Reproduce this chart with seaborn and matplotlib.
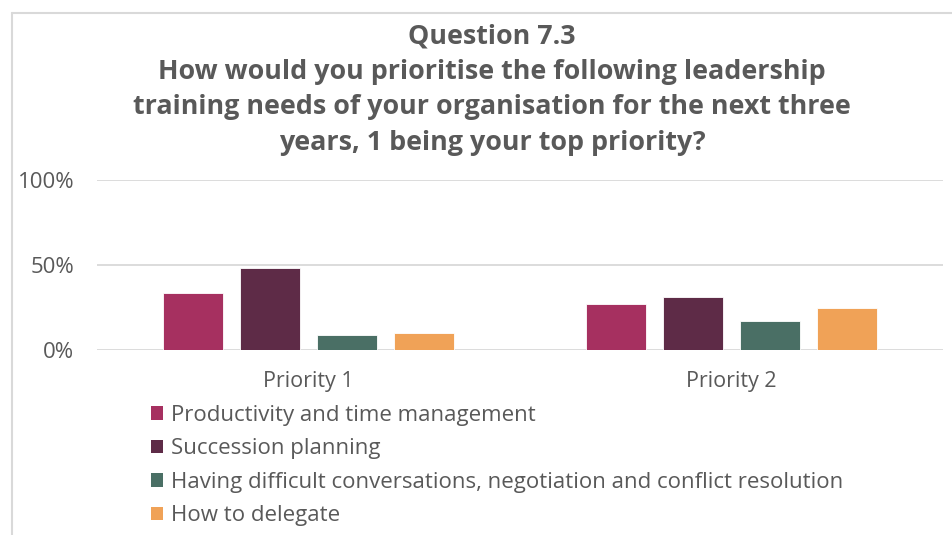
import matplotlib
matplotlib.use("Agg")
import matplotlib.pyplot as plt
from matplotlib.patches import Patch
from matplotlib.lines import Line2D
import seaborn as sns
import pandas as pd

# Survey results: share of respondents per training need and priority rank
priorities = ["Priority 1", "Priority 2"]
needs = [
    "Productivity and time management",
    "Succession planning",
    "Having difficult conversations, negotiation and conflict resolution",
    "How to delegate",
]
priority_1 = [0.333, 0.48, 0.09, 0.10]
priority_2 = [0.27, 0.31, 0.17, 0.25]
colors = ["#A63060", "#5E2B47", "#4A6F65", "#F0A257"]
y_ticks = [0.0, 0.5, 1.0]
y_tick_labels = ["0%", "50%", "100%"]

title = ("Question 7.3\nHow would you prioritise the following leadership\n"
         "training needs of your organisation for the next three\n"
         "years, 1 being your top priority?")

rows = []
for need, v1, v2 in zip(needs, priority_1, priority_2):
    rows.append({"priority": priorities[0], "need": need, "share": v1})
    rows.append({"priority": priorities[1], "need": need, "share": v2})
df = pd.DataFrame(rows)

sns.set_theme(style="white")
plt.rcParams["font.family"] = ["Open Sans", "DejaVu Sans"]
text_color = "#595959"
grid_color = "#D9D9D9"

fig = plt.figure(figsize=(9.52, 5.35), dpi=100)
ax = fig.add_axes([97 / 952, 1 - 350 / 535, 846 / 952, 170 / 535])

sns.barplot(
    data=df, x="priority", y="share", hue="need",
    order=priorities, hue_order=needs, palette=colors,
    width=0.728, gap=0.21, saturation=1, legend=False,
    edgecolor="white", linewidth=0.6, ax=ax,
)

ax.set_ylim(0, 1)
ax.set_xlim(-0.5, 1.5)
ax.set_yticks(y_ticks)
ax.set_yticklabels(y_tick_labels)
ax.set_xlabel("")
ax.set_ylabel("")
for yv in y_ticks:
    ax.axhline(yv, color=grid_color, linewidth=1.3, zorder=0)
for side in ["top", "right", "left", "bottom"]:
    ax.spines[side].set_visible(False)
ax.tick_params(axis="y", length=0, pad=16.5, labelsize=16, labelcolor=text_color)
ax.tick_params(axis="x", length=0, pad=15, labelsize=15.5, labelcolor=text_color)

# Chart frame (top and left edges)
fig.add_artist(Line2D([12 / 952, 12 / 952], [0, 1 - 13 / 535], color=grid_color,
                      linewidth=1.5, transform=fig.transFigure))
fig.add_artist(Line2D([12 / 952, 1], [1 - 13 / 535, 1 - 13 / 535], color=grid_color,
                      linewidth=1.5, transform=fig.transFigure))

fig.text(492 / 952, 1 - 24 / 535, title, ha="center", va="top",
         fontsize=19.4, fontweight="bold", color=text_color, linespacing=1.46)

handles = [Patch(facecolor=c, edgecolor="none") for c in colors]
fig.legend(handles, needs, loc="upper left",
           bbox_to_anchor=(142 / 952, 1 - 396 / 535), frameon=False,
           fontsize=16, labelcolor=text_color, handlelength=0.55,
           handleheight=0.55, handletextpad=0.35, labelspacing=0.56,
           borderaxespad=0)

fig.savefig("out.png", dpi=100, facecolor="white")
